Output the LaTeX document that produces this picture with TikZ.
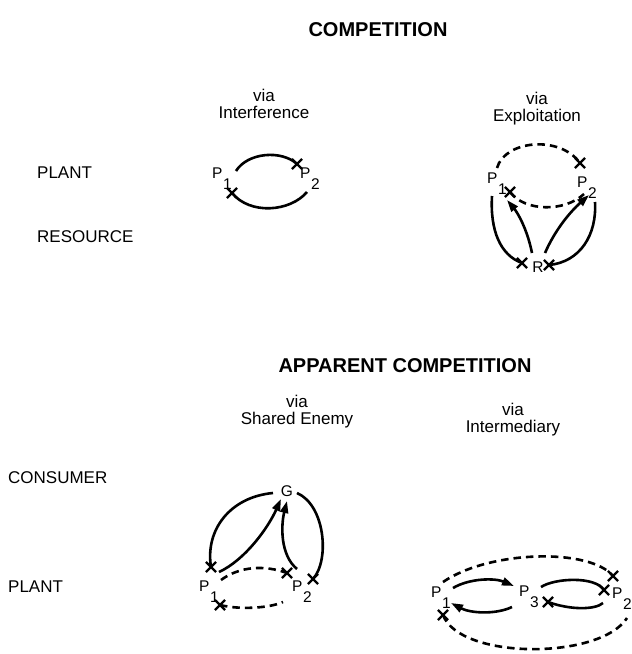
\documentclass[tikz,border=0pt]{standalone}
\usepackage{fontspec}
\setmainfont{Liberation Sans}
\usetikzlibrary{arrows.meta,shapes.misc}
\newcommand\Pn[1]{P\kern0.6pt\raisebox{-11pt}{#1}}
\tikzset{
  lbl/.style={font=\fontsize{17}{19}\selectfont, inner sep=0pt},
  head/.style={font=\fontsize{20}{22}\selectfont\bfseries, inner sep=0pt},
  vtxt/.style={font=\fontsize{17}{17}\selectfont, align=center, inner sep=0pt},
  pn/.style={font=\fontsize{15.5}{15.5}\selectfont, anchor=base west, inner sep=0pt},
  ltr/.style={font=\fontsize{15.5}{15.5}\selectfont, inner sep=0pt},
  xm/.style={draw, cross out, minimum size=8pt, inner sep=0pt, line width=2.2pt},
  link/.style={line width=2.6pt},
  dlink/.style={line width=2.6pt, dash pattern=on 7.5pt off 5pt},
  arr/.style={line width=2.6pt, -{Triangle[length=12pt,width=8pt]}},
}
\begin{document}
\begin{tikzpicture}[x=1pt,y=-1pt]
\useasboundingbox (0,0) rectangle (632,654);

% ---- headings and labels
\node[head] (h1) at (378,30) {COMPETITION};
\node[vtxt] (vI) at (264,104) {via\\Interference};
\node[vtxt] (vE) at (537,109) {via\\Exploitation};
\node[lbl, anchor=west] (lp1) at (37,173) {PLANT};
\node[lbl, anchor=west] (lr) at (37,237) {RESOURCE};
\node[head] (h2) at (405,366) {APPARENT COMPETITION};
\node[vtxt] (vS) at (297,412) {via\\Shared Enemy};
\node[vtxt] (vM) at (513,420) {via\\Intermediary};
\node[lbl, anchor=west] (lc) at (8,478) {CONSUMER};
\node[lbl, anchor=west] (lp2) at (8,587) {PLANT};

% ---- Interference
\node[pn] (iP1) at (212,178) {\Pn{1}};
\node[pn] (iP2) at (300,178) {\Pn{2}};
\node[xm] (iX2) at (297,164) {};
\node[xm] (iX1) at (232,193) {};
\coordinate (iA) at (236,171);
\coordinate (iB) at (307,192);
\draw[link] (iA) .. controls (248,152) and (282,150) .. (iX2.center);
\draw[link] (iX1.center) .. controls (250,215) and (290,212) .. (iB);

% ---- Exploitation
\node[pn] (eP1) at (487,183) {\Pn{1}};
\node[pn] (eP2) at (577,187) {\Pn{2}};
\node[ltr] (eR) at (538,267) {R};
\node[xm] (eX1) at (510,192) {};
\node[xm] (eXt) at (580,163) {};
\node[xm] (eXR1) at (522,263) {};
\node[xm] (eXR2) at (549,265) {};
\coordinate (eA) at (497,168);
\coordinate (eB) at (584,194);
\coordinate (eC) at (492,196);
\coordinate (eD) at (595,202);
\coordinate (eR1) at (532,253);
\coordinate (eR2) at (545,253);
\coordinate (eT1) at (507,200);
\coordinate (eT2) at (589,195);
\draw[dlink] (eA) .. controls (505,140) and (560,135) .. (eXt.center);
\draw[dlink] (eX1.center) .. controls (525,212) and (565,212) .. (eB);
\draw[link] (eC) .. controls (490,230) and (500,255) .. (eXR1.center);
\draw[link] (eD) .. controls (597,235) and (580,262) .. (eXR2.center);
\draw[arr] (eR1) .. controls (527,228) and (517,212) .. (eT1);
\draw[arr] (eR2) .. controls (555,230) and (570,212) .. (eT2);

% ---- Shared Enemy
\node[ltr] (sG) at (287,491) {G};
\node[pn] (sP1) at (199,591) {\Pn{1}};
\node[pn] (sP2) at (292,591) {\Pn{2}};
\node[xm] (sX1) at (211,567) {};
\node[xm] (sX2) at (313,579) {};
\node[xm] (sX3) at (287,573) {};
\node[xm] (sX4) at (220,605) {};
\coordinate (sGl) at (273,493);
\coordinate (sGr) at (297,493);
\coordinate (sA1) at (219,572);
\coordinate (sA2) at (297,569);
\coordinate (sT1) at (281,499);
\coordinate (sT2) at (287,501);
\coordinate (sD1) at (221,580);
\coordinate (sD2) at (283,602);
\draw[link] (sGl) .. controls (230,497) and (205,530) .. (sX1.center);
\draw[link] (sGr) .. controls (325,505) and (330,560) .. (sX2.center);
\draw[arr] (sA1) .. controls (245,560) and (268,528) .. (sT1);
\draw[arr] (sA2) .. controls (280,555) and (281,525) .. (sT2);
\draw[dlink] (sD1) .. controls (240,566) and (265,565) .. (sX3.center);
\draw[dlink] (sX4.center) .. controls (240,610) and (270,608) .. (sD2);

% ---- Intermediary
\node[pn] (mP1) at (431,597) {\Pn{1}};
\node[pn] (mP3) at (519,596) {\Pn{3}};
\node[pn] (mP2) at (612,598) {\Pn{2}};
\node[xm] (mX1) at (443,615) {};
\node[xm] (mX2) at (604,590) {};
\node[xm] (mX3) at (548,602) {};
\node[xm] (mX4) at (613,576) {};
\coordinate (mA) at (453,588);
\coordinate (mB) at (514,586);
\coordinate (mC) at (512,607);
\coordinate (mD) at (451,603);
\coordinate (mE) at (541,587);
\coordinate (mF) at (603,603);
\coordinate (mG) at (443,582);
\coordinate (mH) at (627,618);
\draw[arr] (mA) .. controls (470,578) and (495,578) .. (mB);
\draw[arr] (mC) .. controls (495,615) and (470,613) .. (mD);
\draw[link] (mE) .. controls (555,578) and (595,576) .. (mX2.center);
\draw[link] (mX3.center) .. controls (570,610) and (595,610) .. (mF);
\draw[dlink] (mG) .. controls (490,550) and (590,548) .. (mX4.center);
\draw[dlink] (mX1.center) .. controls (460,660) and (600,660) .. (mH);
\end{tikzpicture}
\end{document}
